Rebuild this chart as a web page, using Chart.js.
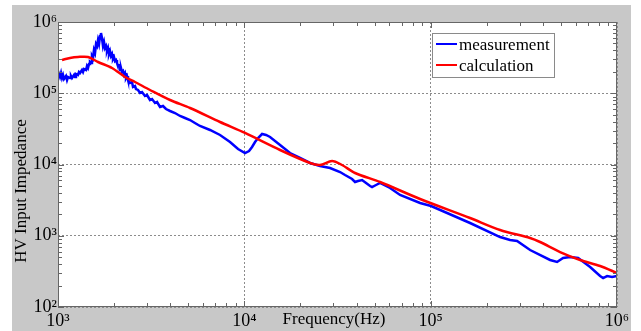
<!DOCTYPE html>
<html>
<head>
<meta charset="utf-8">
<script src="https://cdn.jsdelivr.net/npm/chart.js@4"></script>
<style>
  html, body { margin: 0; padding: 0; background: #fff; }
  #wrap { width: 641px; height: 331px; }
</style>
</head>
<body>
<div id="wrap"><canvas id="myChart" width="641" height="331"></canvas></div>
<script>
// measurement (blue) - frequency in Hz, impedance in ohm
let measFreq = [1000, 1012, 1025, 1038, 1051, 1064, 1077, 1104, 1118, 1132, 1160, 1174, 1189, 1219, 1234, 1249,
    1280, 1296, 1313, 1345, 1362, 1379, 1414, 1431, 1449, 1467, 1485, 1504, 1522, 1541, 1560, 1580, 1600, 1620,
    1640, 1660, 1681, 1701, 1722, 1744, 1766, 1788, 1810, 1832, 1855, 1878, 1901, 1925, 1949, 1973, 1998, 2023,
    2048, 2073, 2099, 2125, 2152, 2178, 2205, 2233, 2261, 2289, 2317, 2346, 2375, 2435, 2496, 2527, 2590, 2622,
    2688, 2755, 2824, 2930, 3003, 3118, 3196, 3317, 3400, 3528, 3660, 3799, 3993, 4244, 4518, 4803, 5111, 5430,
    5783, 6545, 7405, 8379, 9252, 10088, 10600, 11000, 11415, 11850, 12450, 13080, 13740, 15550, 17590, 19910,
    22530, 25490, 28840, 32640, 34710, 37860, 39280, 40760, 42830, 45020, 47290, 48460, 50920, 53500, 60540,
    68530, 87740, 100500, 162700, 235800, 266800, 290900, 341700, 437400, 476900, 513600, 560100, 618400,
    717300, 811600, 842200, 884900, 941200, 1000000];
let measZ = [174600, 186300, 169100, 192300, 163700, 180300, 158500, 174600, 153500, 169100, 163700, 174600,
    163700, 180300, 169100, 186300, 180300, 198800, 192300, 212000, 198800, 218900, 212000, 241300, 226100,
    257400, 274600, 265800, 333200, 312500, 405000, 367200, 491200, 460500, 559000, 491200, 636000, 701000,
    596400, 460500, 524000, 432000, 460500, 391800, 432000, 356000, 391800, 333200, 356000, 302500, 323000,
    283600, 293000, 265800, 241300, 257400, 212000, 226100, 198800, 205300, 180300, 192300, 163700, 174600,
    153500, 139300, 143900, 122400, 126400, 114700, 111100, 100800, 104100, 91500, 94500, 80400, 83070, 72980,
    75370, 64100, 66240, 60100, 56360, 52800, 47950, 44940, 42100, 38230, 34710, 30500, 25950, 20700, 16500,
    14500, 15460, 17600, 20700, 23550, 26800, 25950, 24320, 18780, 14500, 12340, 10500, 9525, 8930, 7848,
    7120, 6258, 5680, 5868, 6060, 5500, 4993, 4830, 5157, 5500, 4680, 3730, 2880, 2615, 1510, 960, 871, 844,
    631, 457, 428, 487, 503, 487, 364, 272, 255, 272, 264, 272];

// calculation (red)
let calcFreq = [1051, 1160, 1280, 1449, 1640, 1949, 2289, 2590, 3118, 3993, 5111, 7405, 10088, 15548, 22527,
    25490, 29560, 33450, 39280, 53500, 87740, 162700, 235800, 341700, 386600, 494900, 633800, 811600, 1000000];
let calcZ = [293000, 312500, 323000, 323000, 274600, 226100, 169100, 143900, 111100, 80400, 62100, 39500, 27700,
    15980, 10500, 9840, 11200, 9840, 7600, 5680, 3280, 1775, 1204, 930, 817, 591, 457, 376, 300];

let seriesNames = ['measurement', 'calculation'];
let xTickValues = [1e3, 1e4, 1e5, 1e6];
let xTickLabels = ['10³', '10⁴', '10⁵', '10⁶'];
let yTickValues = [1e2, 1e3, 1e4, 1e5, 1e6];
let yTickLabels = ['10²', '10³', '10⁴', '10⁵', '10⁶'];
let xTitle = 'Frequency(Hz)';
let yTitle = 'HV Input Impedance';

const serif = "'Liberation Serif', 'Times New Roman', serif";

function toPoints(xs, ys) {
    return xs.map((x, i) => ({ x: x, y: ys[i] }));
}

// background, frame, inner ticks, titles and legend (MATLAB look)
const matlabLook = {
    id: 'matlabLook',
    beforeDraw(chart) {
        let ctx = chart.ctx, a = chart.chartArea;
        ctx.save();
        ctx.fillStyle = '#ffffff';
        ctx.fillRect(0, 0, chart.width, chart.height);
        ctx.fillStyle = '#c8c8c8';
        ctx.fillRect(12, 5, 619, 326);
        ctx.fillStyle = '#ffffff';
        ctx.fillRect(a.left, a.top, a.right - a.left, a.bottom - a.top);
        ctx.restore();
    },
    afterDraw(chart) {
        let ctx = chart.ctx, a = chart.chartArea;
        let xs = chart.scales.x, ys = chart.scales.y;
        ctx.save();
        ctx.strokeStyle = '#666666';
        ctx.lineWidth = 1;
        ctx.beginPath();
        // minor + major ticks pointing inwards
        for (let d = 3; d < 6; d++) {
            for (let m = 1; m < 10; m++) {
                let px = Math.round(xs.getPixelForValue(m * Math.pow(10, d))) + 0.5;
                let len = m === 1 ? 6 : 4;
                ctx.moveTo(px, a.bottom); ctx.lineTo(px, a.bottom - len);
                ctx.moveTo(px, a.top); ctx.lineTo(px, a.top + len);
            }
        }
        for (let d = 2; d < 6; d++) {
            for (let m = 1; m < 10; m++) {
                let py = Math.round(ys.getPixelForValue(m * Math.pow(10, d))) + 0.5;
                let len = m === 1 ? 6 : 4;
                ctx.moveTo(a.left, py); ctx.lineTo(a.left + len, py);
                ctx.moveTo(a.right, py); ctx.lineTo(a.right - len, py);
            }
        }
        ctx.stroke();
        ctx.strokeRect(a.left + 0.5, a.top + 0.5, a.right - a.left - 1, a.bottom - a.top - 1);

        // axis titles
        ctx.fillStyle = '#000000';
        ctx.font = '17px ' + serif;
        ctx.textAlign = 'center';
        ctx.textBaseline = 'middle';
        ctx.fillText(xTitle, 334, 320);
        ctx.save();
        ctx.translate(22, 191);
        ctx.rotate(-Math.PI / 2);
        ctx.fillText(yTitle, 0, 0);
        ctx.restore();

        // legend box
        let lx = 432, ly = 33, lw = 122, lh = 44;
        ctx.fillStyle = '#ffffff';
        ctx.fillRect(lx, ly, lw, lh);
        ctx.strokeStyle = '#8a8a8a';
        ctx.strokeRect(lx + 0.5, ly + 0.5, lw, lh);
        ctx.textAlign = 'left';
        chart.data.datasets.forEach((ds, i) => {
            let yy = ly + 11 + i * 21;
            ctx.strokeStyle = ds.borderColor;
            ctx.lineWidth = 2;
            ctx.beginPath();
            ctx.moveTo(436, yy); ctx.lineTo(457, yy);
            ctx.stroke();
            ctx.fillStyle = '#000000';
            ctx.fillText(ds.label, 459, yy + 2);
        });
        ctx.restore();
    }
};

let ctx = document.getElementById('myChart').getContext('2d');
let chart = new Chart(ctx, {
    type: 'line',
    data: {
        datasets: [{
            label: seriesNames[0],
            data: toPoints(measFreq, measZ),
            borderColor: '#0000ff',
            borderWidth: 2.5,
            pointRadius: 0,
            tension: 0,
            order: 1
        }, {
            label: seriesNames[1],
            data: toPoints(calcFreq, calcZ),
            borderColor: '#ff0000',
            borderWidth: 2.5,
            pointRadius: 0,
            tension: 0.3,
            order: 0
        }]
    },
    options: {
        responsive: false,
        animation: false,
        devicePixelRatio: 1,
        layout: { padding: { top: 22, right: 24, left: 0, bottom: 0 } },
        plugins: {
            legend: { display: false },
            tooltip: { enabled: false }
        },
        scales: {
            x: {
                type: 'logarithmic',
                min: 1e3,
                max: 1e6,
                afterBuildTicks: (scale) => { scale.ticks = xTickValues.map(v => ({ value: v })); },
                afterFit: (scale) => { scale.height = 24; },
                grid: { color: '#8c8c8c', lineWidth: 1, drawTicks: false },
                border: { display: false, dash: [2, 2] },
                ticks: {
                    autoSkip: false,
                    maxRotation: 0,
                    padding: 3,
                    color: '#000000',
                    font: { family: serif, size: 18 },
                    callback: (v, i) => xTickLabels[i]
                }
            },
            y: {
                type: 'logarithmic',
                min: 1e2,
                max: 1e6,
                afterBuildTicks: (scale) => { scale.ticks = yTickValues.map(v => ({ value: v })); },
                afterFit: (scale) => { scale.width = 58; },
                grid: { color: '#8c8c8c', lineWidth: 1, drawTicks: false },
                border: { display: false, dash: [2, 2] },
                ticks: {
                    autoSkip: false,
                    padding: 1,
                    color: '#000000',
                    font: { family: serif, size: 18 },
                    callback: (v, i) => yTickLabels[i]
                }
            }
        }
    },
    plugins: [matlabLook]
});
</script>
</body>
</html>
